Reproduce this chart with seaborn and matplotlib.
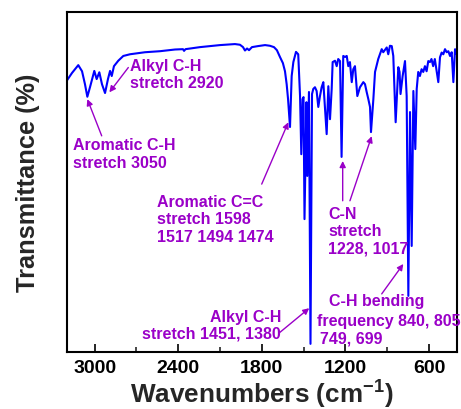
import matplotlib
matplotlib.use("Agg")
import matplotlib.pyplot as plt
from matplotlib.ticker import MultipleLocator
import seaborn as sns
import pandas as pd

# FTIR spectrum: wavenumber (cm-1) and transmittance (%)
wavenumber = [3200, 3162, 3117, 3090, 3069, 3052, 3033, 3002, 2985, 2966,
              2947, 2925, 2904, 2889, 2877, 2861, 2830, 2794, 2746, 2638,
              2531, 2423, 2366, 2358, 2348, 2244, 2100, 1993, 1957, 1935,
              1921, 1906, 1892, 1871, 1828, 1777, 1742, 1713, 1692, 1670,
              1649, 1634, 1622, 1612, 1598, 1586, 1574, 1555, 1539, 1526,
              1517, 1508, 1501, 1494, 1480, 1474, 1462, 1451, 1440, 1431,
              1419, 1407, 1395, 1383, 1371, 1359, 1347, 1335, 1323, 1311,
              1299, 1292, 1275, 1263, 1252, 1239, 1228, 1216, 1203, 1191,
              1180, 1168, 1155, 1144, 1132, 1115, 1096, 1072, 1060, 1048,
              1036, 1024, 1017, 1000, 988, 965, 940, 929, 904, 893,
              881, 868, 857, 840, 821, 812, 805, 790, 773, 761,
              749, 737, 725, 713, 699, 689, 678, 666, 654, 642,
              630, 618, 606, 594, 583, 571, 559, 534, 522, 510,
              498, 486, 474, 462, 450, 438, 426, 414, 402]
transmittance = [79.8, 82.1, 84.4, 82.6, 78.8, 75.1, 77.9, 82.7, 80.3, 82.3,
                 78.8, 76.2, 80.3, 82.7, 81.2, 84.1, 85.7, 87.1, 87.6, 88.2,
                 88.5, 89.0, 89.1, 88.6, 89.1, 89.7, 90.3, 90.6, 90.4, 89.7,
                 88.7, 89.3, 88.8, 89.7, 90.0, 90.3, 90.1, 89.7, 88.8, 86.8,
                 85.0, 82.6, 78.8, 74.4, 66.2, 81.2, 85.3, 88.3, 87.6, 75.3,
                 58.2, 74.4, 75.0, 39.1, 73.5, 51.8, 76.5, 2.4, 75.9, 77.4,
                 77.9, 76.8, 72.1, 75.3, 77.9, 79.4, 71.5, 64.1, 78.2, 68.5,
                 77.4, 85.3, 85.7, 84.1, 86.2, 85.6, 57.4, 87.1, 86.8, 87.1,
                 84.1, 85.3, 79.4, 83.2, 84.1, 75.3, 77.9, 79.4, 78.8, 76.5,
                 74.4, 72.1, 64.7, 74.4, 82.4, 86.2, 89.1, 88.2, 89.6, 87.6,
                 90.1, 90.0, 87.1, 67.6, 83.8, 82.4, 75.9, 81.2, 85.6, 75.3,
                 16.5, 70.6, 31.2, 76.8, 59.7, 77.4, 82.4, 81.2, 83.2, 82.4,
                 84.1, 82.6, 85.6, 85.3, 86.2, 84.1, 86.2, 79.4, 86.7, 88.1,
                 87.6, 89.1, 88.2, 88.5, 87.1, 88.2, 79.4, 89.1, 87.6]

xticks = [3000, 2400, 1800, 1200, 600]

sns.set_theme(style="white")
plt.rcParams["font.family"] = ["Liberation Sans", "DejaVu Sans"]
plt.rcParams["font.weight"] = "bold"
plt.rcParams["mathtext.fontset"] = "custom"
plt.rcParams["mathtext.rm"] = "Liberation Sans:bold"
plt.rcParams["mathtext.bf"] = "Liberation Sans:bold"

df = pd.DataFrame({"wn": wavenumber, "T": transmittance})

fig = plt.figure(figsize=(4.61, 4.10), dpi=100)
ax = fig.add_axes([0.1447, 0.139, 0.8466, 0.829])

sns.lineplot(data=df, x="wn", y="T", ax=ax, color="#0000FF", lw=1.5,
             estimator=None, sort=False)

ax.set_xlim(3200, 400)
ax.set_ylim(0, 100)
ax.set_xticks(xticks)
ax.xaxis.set_minor_locator(MultipleLocator(300))
ax.set_yticks([])
ax.tick_params(axis="x", which="major", direction="in", length=6, width=1.2,
               labelsize=14, pad=5, colors="black", bottom=True)
ax.tick_params(axis="x", which="minor", direction="in", length=3.5, width=1.2,
               bottom=True)
for lab in ax.get_xticklabels():
    lab.set_fontweight("bold")
for s in ax.spines.values():
    s.set_color("black")
    s.set_linewidth(1.5)

ax.set_xlabel(r"Wavenumbers (cm$^{-1}$)", fontsize=18.8, fontweight="bold",
              labelpad=0)
ax.set_ylabel("Transmittance (%)", fontsize=18.3, fontweight="bold",
              labelpad=19)

purple = "#9A00C8"
tkw = dict(color=purple, fontsize=11.5, fontweight="bold", linespacing=1.2)
akw = dict(arrowstyle="-|>", color=purple, lw=1.0, mutation_scale=9,
           shrinkA=0, shrinkB=0)

def arrow(tip, tail):
    ax.annotate("", xy=tip, xytext=tail, arrowprops=akw)

# Peak assignments
ax.text(2745, 86.6, "Alkyl C-H\nstretch 2920", ha="left", va="top", **tkw)
arrow((2894, 76.4), (2758, 83.7))

ax.text(3155, 63.2, "Aromatic C-H\nstretch 3050", ha="left", va="top", **tkw)
arrow((3052, 74.4), (2949, 63.6))

ax.text(2554, 46.5, "Aromatic C=C\nstretch 1598\n1517 1494 1474",
        ha="left", va="top", **tkw)
arrow((1610, 67.6), (1801, 49.4))

ax.text(1323, 43.0, "C-N\nstretch\n1228, 1017", ha="left", va="top", **tkw)
arrow((1220, 56.2), (1220, 44.5))
arrow((1012, 63.5), (1168, 44.5))

ax.text(1663, 12.8, "Alkyl C-H\nstretch 1451, 1380", ha="right", va="top",
        multialignment="right", **tkw)
arrow((1460, 12.9), (1670, 5.8))

ax.text(1316, 15.1, "C-H bending", ha="left", va="center", **tkw)
ax.text(1407, 9.4, "frequency 840, 805", ha="left", va="center", **tkw)
ax.text(1383, 4.0, "749, 699", ha="left", va="center", **tkw)
arrow((785, 25.9), (940, 17.1))

fig.savefig("out.png", dpi=100)
